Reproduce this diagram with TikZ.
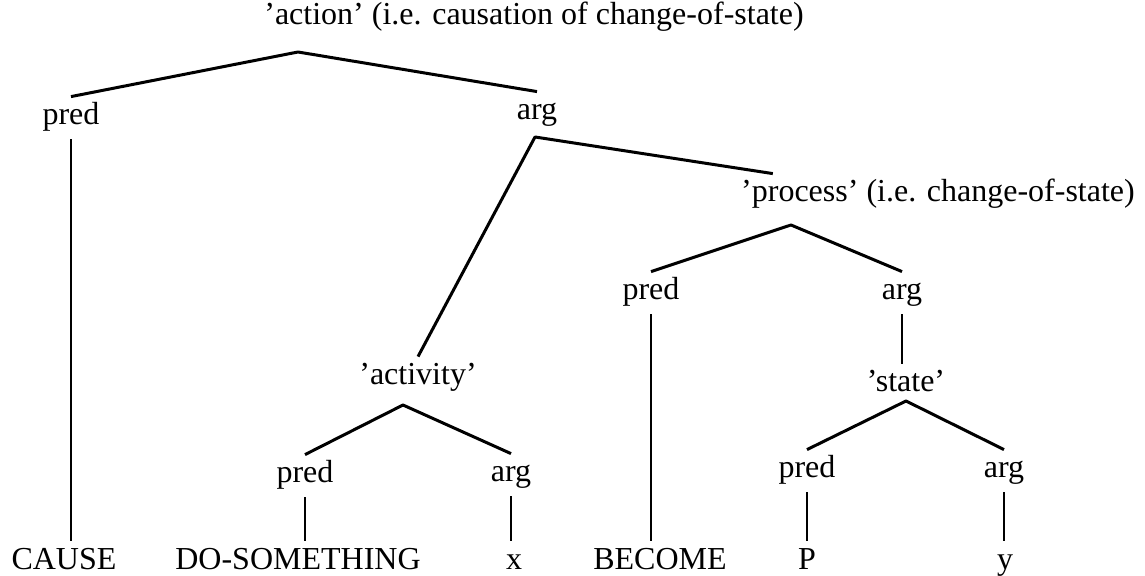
\documentclass[tikz,border=0pt]{standalone}
\usepackage{fontspec}
\setmainfont{Liberation Serif}
\usetikzlibrary{calc}
\tikzset{
  treelabel/.style={
    inner sep=4pt,
    text height=10pt,
    text depth=3pt,
    font=\fontsize{16}{19}\selectfont
  },
  branch/.style={
    line width=1.5pt,
    line join=round
  },
  stem/.style={
    line width=1pt
  }
}

\begin{document}
\begin{tikzpicture}[x=0.5pt,y=-0.5pt]
\useasboundingbox (0,0) rectangle (1145,576);
% top level
\node[treelabel] (action) at (534,18) {’action’ (i.e. causation of change-of-state)};
\coordinate (actionApex) at (298,52);
\node[treelabel] (predA) at (71,118) {pred};
\node[treelabel] (argA) at (537,113) {arg};
\coordinate (argApex) at (535,137);
% process subtree
\node[treelabel] (process) at (938,195) {’process’ (i.e. change-of-state)};
\coordinate (processApex) at (791,225);
\node[treelabel] (predP) at (651,293) {pred};
\node[treelabel] (argP) at (902,293) {arg};
\node[treelabel] (state) at (906,385) {’state’};
\coordinate (stateApex) at (906,401);
\node[treelabel] (predS) at (807,471) {pred};
\node[treelabel] (argS) at (1004,471) {arg};
% activity subtree
\node[treelabel] (activity) at (418,378) {’activity’};
\coordinate (activityApex) at (403,405);
\node[treelabel] (predAc) at (305,476) {pred};
\node[treelabel] (argAc) at (511,475) {arg};
% bottom row
\node[treelabel] (cause) at (64,562) {CAUSE};
\node[treelabel] (dosomething) at (298,562) {DO-SOMETHING};
\node[treelabel] (xvar) at (514,562) {x};
\node[treelabel] (become) at (660,562) {BECOME};
\node[treelabel] (pvar) at (807,562) {P};
\node[treelabel] (yvar) at (1005,562) {y};

\draw[branch] (predA.north) -- (actionApex) -- (argA.north);
\draw[stem] (predA.south) -- (predA.south |- cause.north);
\draw[branch] (activity.north) -- (argApex) -- ([xshift=20pt]process.north west);
\draw[branch] (predP.north) -- (processApex) -- (argP.north);
\draw[stem] (predP.south) -- (predP.south |- become.north);
\draw[stem] (argP.south) -- (argP.south |- state.north);
\draw[branch] (predS.north) -- (stateApex) -- (argS.north);
\draw[stem] (predS.south) -- (predS.south |- pvar.north);
\draw[stem] (argS.south) -- (argS.south |- yvar.north);
\draw[branch] (predAc.north) -- (activityApex) -- (argAc.north);
\draw[stem] (predAc.south) -- (predAc.south |- dosomething.north);
\draw[stem] (argAc.south) -- (argAc.south |- xvar.north);
\end{tikzpicture}
\end{document}
